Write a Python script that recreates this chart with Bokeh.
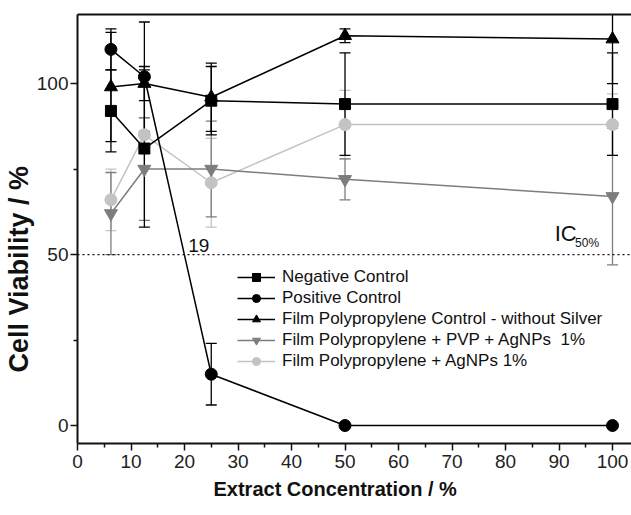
from bokeh.plotting import figure
from bokeh.models import (ColumnDataSource, Whisker, TeeHead, Span, Label, Range1d,
                          FixedTicker, LinearAxis, Legend, Title)
from bokeh.embed import file_html
from bokeh.resources import INLINE

# ---- data ----
conc = [6.25, 12.5, 25, 50, 100]
neg = [92, 81, 95, 94, 94]
neg_err = [12, 23, 10, 15, 15]
pos = [110, 102, 15, 0, 0]
pos_err = [6, 16, 9, 0, 0]
film = [99, 100, 96, 114, 113]
film_err = [16, 5, 10, 2, 13]
pvp = [62, 75, 75, 72, 67]
pvp_err = [12, 15, 14, 6, 20]
ag = [66, 85, 71, 88, 88]
ag_err = [9, 5, 13, 10, 9]

labels = ["Negative Control", "Positive Control",
          "Film Polypropylene Control - without Silver",
          "Film Polypropylene + PVP + AgNPs  1%",
          "Film Polypropylene + AgNPs 1%"]
x_ticks = [0, 10, 20, 30, 40, 50, 60, 70, 80, 90, 100]
x_minor = [5, 15, 25, 35, 45, 55, 65, 75, 85, 95]
y_ticks = [0, 50, 100]
y_minor = [25, 75]
ic50_value = 19
x_title = "Extract Concentration / %"
y_title = "Cell Viability / %"

FONT = "Liberation Sans"

p = figure(width=631, height=515, output_backend="svg", toolbar_location=None,
           x_range=Range1d(0, 103.55), y_range=Range1d(-5.26, 120.2),
           min_border_left=77, min_border_right=0, min_border_top=14,
           min_border_bottom=72)
p.outline_line_color = None
p.grid.grid_line_color = None
p.background_fill_color = "white"

# axes
for ax in (p.xaxis[0], p.yaxis[0]):
    ax.axis_line_width = 2
    ax.axis_line_color = "#111111"
    ax.major_tick_line_color = "#111111"
    ax.minor_tick_line_color = "#111111"
    ax.major_tick_line_width = 1.5
    ax.minor_tick_line_width = 1.5
    ax.major_tick_in = 0
    ax.minor_tick_in = 0
    ax.major_tick_out = 7
    ax.minor_tick_out = 4
    ax.major_label_text_font = FONT
    ax.major_label_text_font_size = "19px"
    ax.major_label_text_color = "#222222"

p.xaxis[0].ticker = FixedTicker(ticks=x_ticks, minor_ticks=x_minor)
p.yaxis[0].ticker = FixedTicker(ticks=y_ticks, minor_ticks=y_minor)
p.xaxis[0].major_label_standoff = 4
p.yaxis[0].major_label_standoff = 2

top = LinearAxis(ticker=FixedTicker(ticks=[]), major_label_text_font_size="0px",
                 axis_line_width=2, axis_line_color="#111111",
                 major_tick_out=0, major_tick_in=0, minor_tick_out=0, minor_tick_in=0)
p.add_layout(top, "above")

# axis titles
p.add_layout(Title(text=x_title, align="left", offset=136, standoff=15,
                   vertical_align="top",
                   text_font=FONT, text_font_style="bold", text_font_size="20px",
                   text_color="#111111"), "below")
p.add_layout(Title(text=y_title, align="left", offset=71, standoff=0,
                   text_font=FONT, text_font_style="bold", text_font_size="27px",
                   text_color="#111111"), "left")

# IC50 reference line
p.add_layout(Span(location=50, dimension="width", line_color="#111111",
                  line_dash="2 3", line_width=1.2))

series = [
    (ag, ag_err, "#c3c3c3", "circle", 12, labels[4]),
    (pvp, pvp_err, "#7d7d7d", "inverted_triangle", 13, labels[3]),
    (film, film_err, "#000000", "triangle", 13, labels[2]),
    (pos, pos_err, "#000000", "circle", 12, labels[1]),
    (neg, neg_err, "#000000", "square", 11, labels[0]),
]

renderers = {}
for vals, errs, col, marker, sz, lab in series:
    src = ColumnDataSource(dict(x=conc, y=vals,
                                lo=[v - e for v, e in zip(vals, errs)],
                                hi=[v + e for v, e in zip(vals, errs)]))
    w = Whisker(source=src, base="x", upper="hi", lower="lo",
                line_color=col, line_width=1.3,
                upper_head=TeeHead(size=11, line_color=col, line_width=1.3),
                lower_head=TeeHead(size=11, line_color=col, line_width=1.3))
    p.add_layout(w)

for vals, errs, col, marker, sz, lab in series:
    src = ColumnDataSource(dict(x=conc, y=vals))
    l = p.line("x", "y", source=src, line_color=col, line_width=1.5)
    s = p.scatter("x", "y", source=src, marker=marker, size=sz,
                  fill_color=col, line_color=col)
    renderers[lab] = [l, s]

legend = Legend(items=[(lab, renderers[lab]) for lab in labels],
                location=(160, 72), orientation="vertical",
                label_text_font=FONT, label_text_font_size="17px",
                label_text_color="#111111", glyph_width=38, glyph_height=20,
                label_height=20, spacing=1, padding=0, margin=0,
                label_standoff=7, border_line_color=None,
                background_fill_alpha=0)
p.add_layout(legend)

p.add_layout(Label(x=20.7, y=50, text=str(ic50_value), text_font=FONT,
                   text_font_size="19px", text_color="#111111",
                   text_baseline="bottom", y_offset=3))
p.add_layout(Label(x=89.2, y=56.3, text="IC", text_font=FONT,
                   text_font_size="22px", text_color="#111111",
                   text_baseline="alphabetic"))
p.add_layout(Label(x=93.0, y=53.4, text="50%", text_font=FONT,
                   text_font_size="12px", text_color="#111111",
                   text_baseline="alphabetic"))

open("out.html", "w").write(file_html(p, INLINE))
